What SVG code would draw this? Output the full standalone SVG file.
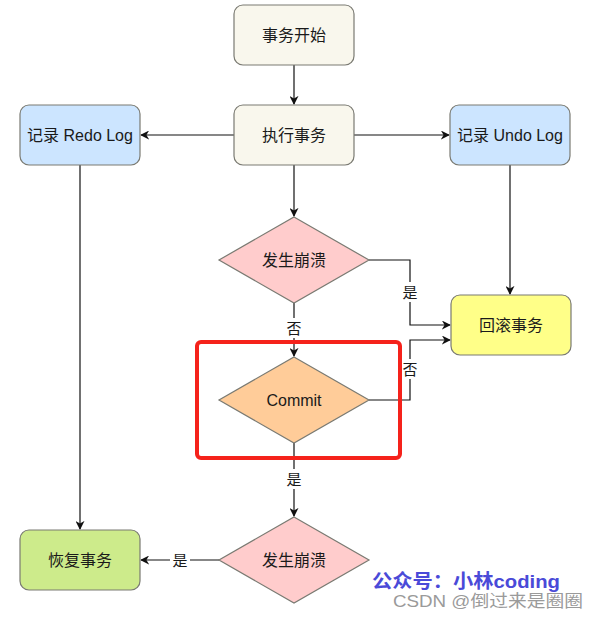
<svg xmlns="http://www.w3.org/2000/svg" width="600" height="620" viewBox="0 0 600 620">
<style>
text{font-family:"Liberation Sans","Noto Sans CJK SC",sans-serif;text-anchor:middle;dominant-baseline:central;fill:#1a1a1a}
.n{font-size:16px}
.lbl{font-size:15px}
.box{stroke:#7a7a72;stroke-width:1.2}
.edge{fill:none;stroke:#111;stroke-width:1.2}
</style>
<defs>
<marker id="arr" viewBox="0 0 10 10" refX="9" refY="5" markerWidth="9" markerHeight="9" markerUnits="userSpaceOnUse" orient="auto">
<path d="M0,0 L10,5 L0,10 L3,5 Z" fill="#111"/>
</marker>
</defs>
<rect width="600" height="620" fill="#fff"/>
<g id="connectors">
<path class="edge" d="M294,65 V104" marker-end="url(#arr)"/>
<path class="edge" d="M234,135 H141" marker-end="url(#arr)"/>
<path class="edge" d="M354,135 H449" marker-end="url(#arr)"/>
<path class="edge" d="M294,165 V216" marker-end="url(#arr)"/>
<path class="edge" d="M510,165 V294" marker-end="url(#arr)"/>
<path class="edge" d="M80,165 V529" marker-end="url(#arr)"/>
<path class="edge" d="M369,260 H410 V325 H450" marker-end="url(#arr)"/>
<path class="edge" d="M369,400 H410 V340 H450" marker-end="url(#arr)"/>
<path class="edge" d="M294,303 V356" marker-end="url(#arr)"/>
<path class="edge" d="M294,443 V516" marker-end="url(#arr)"/>
<path class="edge" d="M219,560 H141" marker-end="url(#arr)"/>
<rect x="401" y="282" width="18" height="20" fill="#fff"/>
<text class="lbl" x="410" y="292">是</text>
<rect x="285" y="318" width="18" height="20" fill="#fff"/>
<text class="lbl" x="294" y="328">否</text>
<rect x="401" y="359" width="18" height="20" fill="#fff"/>
<text class="lbl" x="410" y="369">否</text>
<rect x="285" y="469" width="18" height="20" fill="#fff"/>
<text class="lbl" x="294" y="479">是</text>
<rect x="170" y="550" width="20" height="20" fill="#fff"/>
<text class="lbl" x="180" y="560">是</text>
</g>
<g id="start">
<rect class="box" x="234" y="5" width="120" height="60" rx="9" fill="#f9f7ed"/>
<text class="n" x="294" y="35">事务开始</text>
</g>
<g id="exec">
<rect class="box" x="234" y="105" width="120" height="60" rx="9" fill="#f9f7ed"/>
<text class="n" x="294" y="135">执行事务</text>
</g>
<g id="redo">
<rect class="box" x="20" y="105" width="120" height="60" rx="9" fill="#cce5ff"/>
<text class="n" x="80" y="135">记录 Redo Log</text>
</g>
<g id="undo">
<rect class="box" x="450" y="105" width="120" height="60" rx="9" fill="#cce5ff"/>
<text class="n" x="510" y="135">记录 Undo Log</text>
</g>
<g id="crash1">
<path class="box" d="M294,217 L369,260 L294,303 L219,260 Z" fill="#ffcccc"/>
<text class="n" x="294" y="260">发生崩溃</text>
</g>
<g id="rollback">
<rect class="box" x="451" y="295" width="120" height="60" rx="9" fill="#ffff88"/>
<text class="n" x="511" y="325">回滚事务</text>
</g>
<g id="commit">
<path class="box" d="M294,357 L369,400 L294,443 L219,400 Z" fill="#ffcc99"/>
<text class="n" x="294" y="400">Commit</text>
</g>
<g id="crash2">
<path class="box" d="M294,517 L369,560 L294,603 L219,560 Z" fill="#ffcccc"/>
<text class="n" x="294" y="560">发生崩溃</text>
</g>
<g id="recover">
<rect class="box" x="20" y="530" width="120" height="60" rx="9" fill="#cdeb8b"/>
<text class="n" x="80" y="560">恢复事务</text>
</g>
<rect id="highlight" x="197" y="342" width="203" height="116" rx="4" fill="none" stroke="#f5221b" stroke-width="4"/>
<text x="372" y="581" style="text-anchor:start;font-size:19px;fill:#4a4ad8;font-weight:bold" textLength="188" lengthAdjust="spacingAndGlyphs">公众号：小林coding</text>
<text x="393" y="601" style="text-anchor:start;font-size:17px;fill:#9a9a9a" textLength="190" lengthAdjust="spacingAndGlyphs">CSDN @倒过来是圈圈</text>
</svg>
